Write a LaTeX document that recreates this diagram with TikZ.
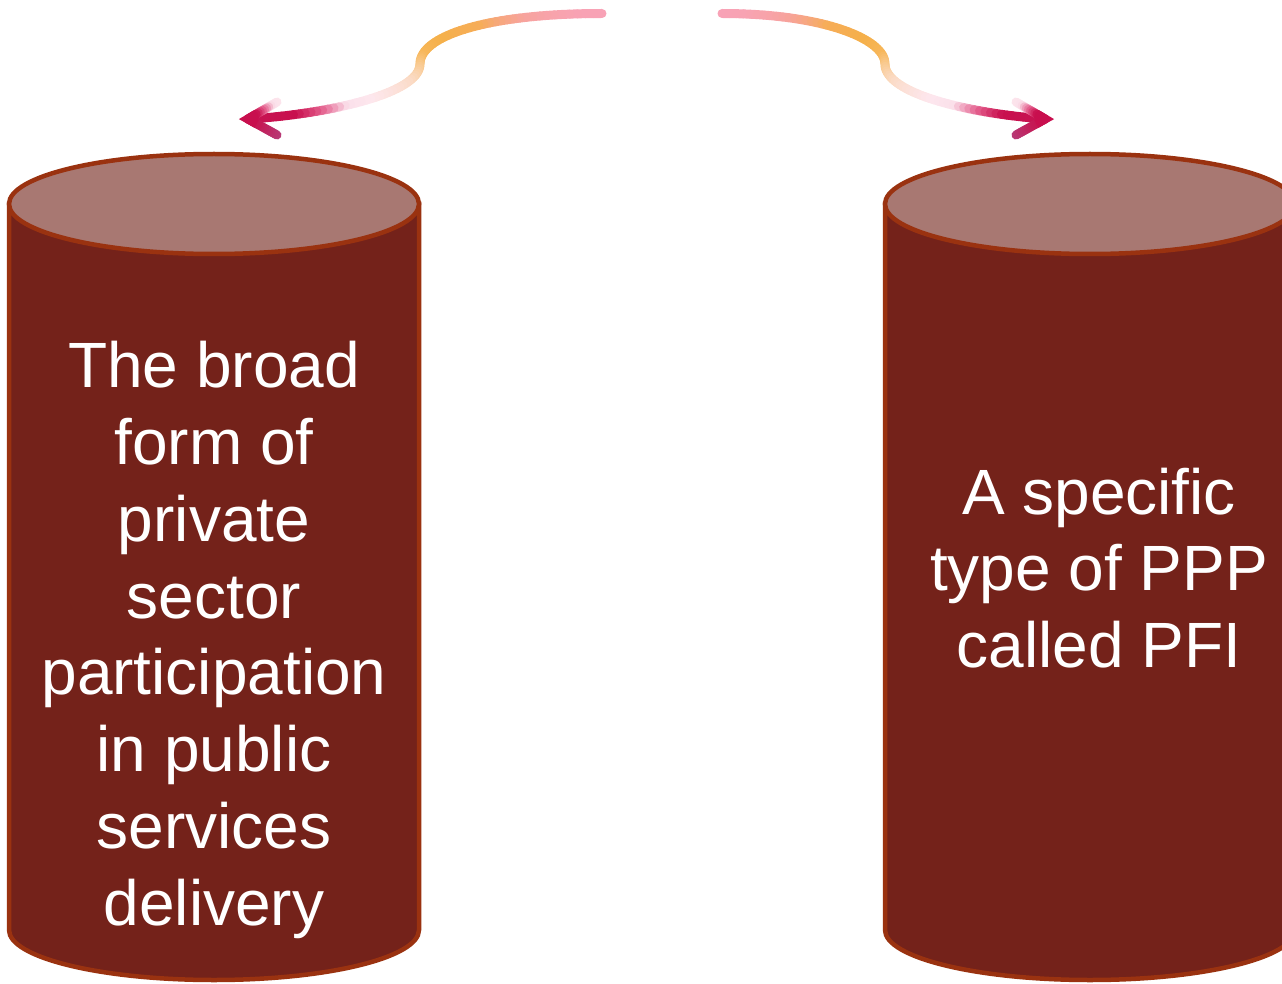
\documentclass[tikz,border=0pt]{standalone}
\usepackage{fontspec}
\setmainfont{Liberation Sans}
\usetikzlibrary{calc}
\definecolor{cylbody}{HTML}{74221A}
\definecolor{cyltop}{HTML}{A87872}
\definecolor{cyledge}{HTML}{9A3210}
\definecolor{gA}{HTML}{F9A2CA}
\definecolor{gC}{HTML}{F7A39C}
\definecolor{gD}{HTML}{F6AD58}
\definecolor{gDD}{HTML}{F5B04A}
\definecolor{gE}{HTML}{F7B75A}
\definecolor{gF}{HTML}{F9CB92}
\definecolor{gG}{HTML}{FBDBC6}
\definecolor{gH}{HTML}{FDE7EE}
\definecolor{gI}{HTML}{FBE0EA}
\definecolor{gJ}{HTML}{E4608E}
\definecolor{gK}{HTML}{C80F4E}
\definecolor{gL}{HTML}{C51A56}
\definecolor{gM}{HTML}{B3437F}
\newcommand\grmix[4]{\pgfmathsetmacro\grpp{100*(#2-\gryy)/(#2-#1)}\colorlet{segc}{#3!\grpp!#4}}
\newcommand\grcol[1]{%
  \pgfmathsetmacro\gryy{#1}%
  \colorlet{segc}{gA}%
  \ifdim\gryy pt>10pt \grmix{10}{18}{gA}{gC}\fi
  \ifdim\gryy pt>18pt \grmix{18}{26}{gC}{gD}\fi
  \ifdim\gryy pt>26pt \grmix{26}{40}{gD}{gDD}\fi
  \ifdim\gryy pt>40pt \grmix{40}{55}{gDD}{gE}\fi
  \ifdim\gryy pt>55pt \grmix{55}{68}{gE}{gF}\fi
  \ifdim\gryy pt>68pt \grmix{68}{82}{gF}{gG}\fi
  \ifdim\gryy pt>82pt \grmix{82}{100}{gG}{gH}\fi
  \ifdim\gryy pt>100pt \grmix{100}{106}{gH}{gI}\fi
  \ifdim\gryy pt>106pt \grmix{106}{111}{gI}{gJ}\fi
  \ifdim\gryy pt>111pt \grmix{111}{115}{gJ}{gK}\fi
  \ifdim\gryy pt>115pt \grmix{115}{124}{gK}{gL}\fi
  \ifdim\gryy pt>124pt \grmix{124}{138}{gL}{gM}\fi
  \ifdim\gryy pt>138pt \colorlet{segc}{gM}\fi
}
% gradient cubic: #1..#8 = x0 y0 x1 y1 x2 y2 x3 y3
\newcommand\grbez[8]{%
  \foreach \gi in {1,...,40} {
    \pgfmathsetmacro\gta{(\gi-1)/40}
    \pgfmathsetmacro\gtb{\gi/40}
    \pgfmathsetmacro\gxa{(1-\gta)^3*#1+3*(1-\gta)^2*\gta*#3+3*(1-\gta)*\gta^2*#5+\gta^3*#7}
    \pgfmathsetmacro\gya{(1-\gta)^3*#2+3*(1-\gta)^2*\gta*#4+3*(1-\gta)*\gta^2*#6+\gta^3*#8}
    \pgfmathsetmacro\gxb{(1-\gtb)^3*#1+3*(1-\gtb)^2*\gtb*#3+3*(1-\gtb)*\gtb^2*#5+\gtb^3*#7}
    \pgfmathsetmacro\gyb{(1-\gtb)^3*#2+3*(1-\gtb)^2*\gtb*#4+3*(1-\gtb)*\gtb^2*#6+\gtb^3*#8}
    \grcol{(\gya+\gyb)/2}
    \draw[arrowseg, draw=segc] (\gxa,\gya) -- (\gxb,\gyb);
  }%
}
% gradient straight line: #1 #2 -> #3 #4
\newcommand\grline[4]{%
  \foreach \gi in {1,...,14} {
    \pgfmathsetmacro\gxa{#1+(#3-#1)*(\gi-1)/14}
    \pgfmathsetmacro\gya{#2+(#4-#2)*(\gi-1)/14}
    \pgfmathsetmacro\gxb{#1+(#3-#1)*\gi/14}
    \pgfmathsetmacro\gyb{#2+(#4-#2)*\gi/14}
    \grcol{(\gya+\gyb)/2}
    \draw[arrowseg, draw=segc] (\gxa,\gya) -- (\gxb,\gyb);
  }%
}
\tikzset{
  cylside/.style={fill=cylbody, draw=cyledge, line width=4.5pt},
  cylcap/.style={fill=cyltop, draw=cyledge, line width=4.5pt},
  txt/.style={text=white, font=\fontsize{64}{76.8}\selectfont, align=center, inner sep=0pt},
  arrowseg/.style={line width=9pt, line cap=round},
  arrowtip/.style={draw=gK, line width=9pt, line cap=butt, line join=miter}
}
\begin{document}
\begin{tikzpicture}[x=1pt, y=-1pt]
\useasboundingbox (0,0) rectangle (1282,984);

% left cylinder
\path[cylside] (9,204) -- (9,930) arc[start angle=180, end angle=0, x radius=205, y radius=50] -- (419,204) -- cycle;
\path[cylcap] (214,204) ellipse[x radius=205, y radius=50];
% right cylinder
\path[cylside] (885,204) -- (885,930) arc[start angle=180, end angle=0, x radius=205, y radius=50] -- (1295,204) -- cycle;
\path[cylcap] (1090,204) ellipse[x radius=205, y radius=50];

\node[txt] (lefttext) at (214,640) {The broad\\form of\\private\\sector\\participation\\in public\\services\\delivery};
\node[txt] (righttext) at (1099,568) {A specific\\type of PPP\\called PFI};

% arrows (vertical colour gradient)
\coordinate (ls) at (602,13.5);
\coordinate (lt) at (248,119);
\coordinate (lu) at (277,102);
\coordinate (ld) at (277,135);
\coordinate (rs) at (722,13.5);
\coordinate (rt) at (1045,119);
\coordinate (ru) at (1016,102);
\coordinate (rd) at (1016,135);
\grbez{602}{13.5}{490}{13.5}{420}{35}{420}{64}
\grbez{420}{64}{420}{95}{320}{115}{248}{119}
\grline{277}{102}{248}{119}
\grline{277}{135}{248}{119}
\path[arrowtip] ($(lt)!0.3!(lu)$) -- (lt) -- ($(lt)!0.3!(ld)$);
\grbez{722}{13.5}{820}{13.5}{885}{38}{885}{64}
\grbez{885}{64}{885}{95}{975}{114}{1045}{119}
\grline{1016}{102}{1045}{119}
\grline{1016}{135}{1045}{119}
\path[arrowtip] ($(rt)!0.3!(ru)$) -- (rt) -- ($(rt)!0.3!(rd)$);
\end{tikzpicture}
\end{document}
